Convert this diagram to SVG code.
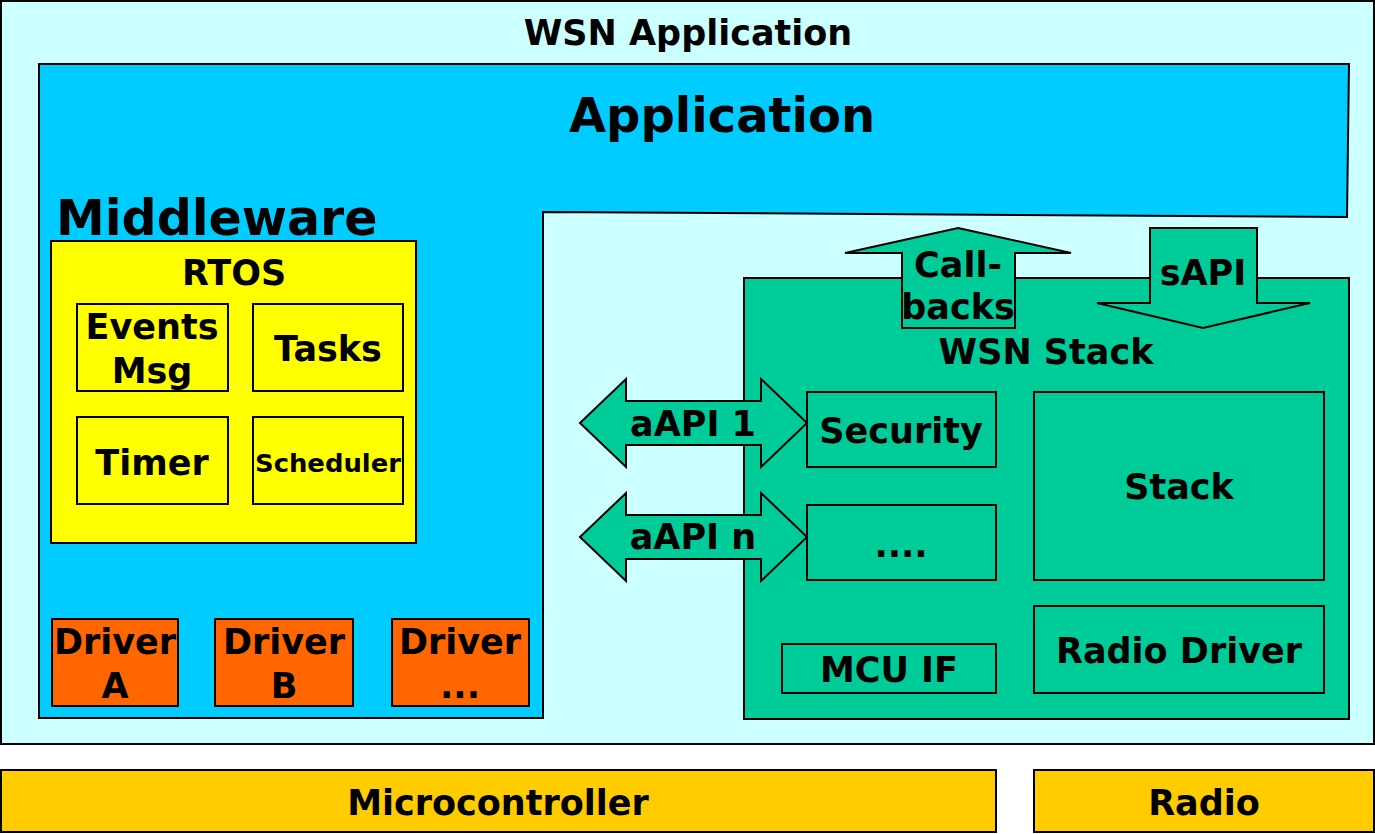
<svg xmlns="http://www.w3.org/2000/svg" width="1375" height="834" viewBox="0 0 1375 834">
<style>
text{font-family:"DejaVu Sans","Verdana",sans-serif;font-weight:bold;fill:#000;text-anchor:middle}
.b{stroke:#000;stroke-width:2}
.y{fill:#ffff00}
.d{fill:#ff6600}
.g{fill:#00cc99}
.o{fill:#ffcc00}
.t32{font-size:35px}
</style>
<g id="wsn-app"><rect x="1" y="1" width="1373" height="743" fill="#ccffff" class="b"/><text x="688" y="45" style="font-size:35px">WSN Application</text></g>
<g id="application"><polygon points="39,64 1349,64 1347,217 543,212 543,718 39,718" fill="#00ccff" class="b"/><text x="722" y="132" style="font-size:48px">Application</text><text x="56" y="235" style="font-size:49px;text-anchor:start">Middleware</text></g>
<g id="rtos"><rect x="51" y="241" width="365" height="302" class="b y"/><text x="234" y="285" class="t32">RTOS</text></g>
<g id="events"><rect x="77" y="304" width="151" height="87" class="b y"/><text x="152" y="339" class="t32">Events</text><text x="152" y="383" class="t32">Msg</text></g>
<g id="tasks"><rect x="253" y="304" width="150" height="87" class="b y"/><text x="328" y="361" class="t32">Tasks</text></g>
<g id="timer"><rect x="77" y="417" width="151" height="87" class="b y"/><text x="152" y="475" class="t32">Timer</text></g>
<g id="scheduler"><rect x="253" y="417" width="150" height="87" class="b y"/><text x="328" y="472" style="font-size:25px" textLength="146" lengthAdjust="spacingAndGlyphs">Scheduler</text></g>
<g id="driverA"><rect x="52" y="619" width="126" height="87" class="b d"/><text x="115" y="654" class="t32">Driver</text><text x="115" y="698" class="t32">A</text></g>
<g id="driverB"><rect x="215" y="619" width="138" height="87" class="b d"/><text x="284" y="654" class="t32">Driver</text><text x="284" y="698" class="t32">B</text></g>
<g id="driverN"><rect x="392" y="619" width="137" height="87" class="b d"/><text x="460" y="654" class="t32">Driver</text><text x="460" y="698" class="t32">...</text></g>
<g id="wsn-stack"><rect x="744" y="278" width="605" height="441" class="b g"/><text x="1046" y="364" class="t32">WSN Stack</text></g>
<g id="security"><rect x="807" y="392" width="189" height="75" class="b g"/><text x="901" y="443" class="t32">Security</text></g>
<g id="dots"><rect x="807" y="505" width="189" height="75" class="b g"/><text x="901" y="557" class="t32">....</text></g>
<g id="stack"><rect x="1034" y="392" width="290" height="188" class="b g"/><text x="1179" y="499" class="t32">Stack</text></g>
<g id="mcuif"><rect x="782" y="644" width="214" height="49" class="b g"/><text x="889" y="682" class="t32">MCU IF</text></g>
<g id="radiodriver"><rect x="1034" y="606" width="290" height="87" class="b g"/><text x="1179" y="663" class="t32">Radio Driver</text></g>
<g id="connectors">
<polygon points="580,423 626,379 626,401 761,401 761,379 807,423 761,467 761,445 626,445 626,467" class="b g"/>
<polygon points="580,537 626,493 626,515 761,515 761,493 807,537 761,581 761,559 626,559 626,581" class="b g"/>
<polygon points="958,228 1071,253 1015,253 1015,328 902,328 902,253 845,253" class="b g"/>
<polygon points="1150,228 1257,228 1257,303 1310,303 1203,328 1097,303 1150,303" class="b g"/>
<text x="693" y="436" class="t32">aAPI 1</text>
<text x="693" y="549" class="t32">aAPI n</text>
<text x="958" y="277" class="t32">Call-</text>
<text x="958" y="319" class="t32">backs</text>
<text x="1203" y="285" class="t32">sAPI</text>
</g>
<g id="microcontroller"><rect x="1" y="770" width="995" height="62" class="b o"/><text x="498" y="815" class="t32">Microcontroller</text></g>
<g id="radio"><rect x="1034" y="770" width="340" height="62" class="b o"/><text x="1204" y="815" class="t32">Radio</text></g>
</svg>
